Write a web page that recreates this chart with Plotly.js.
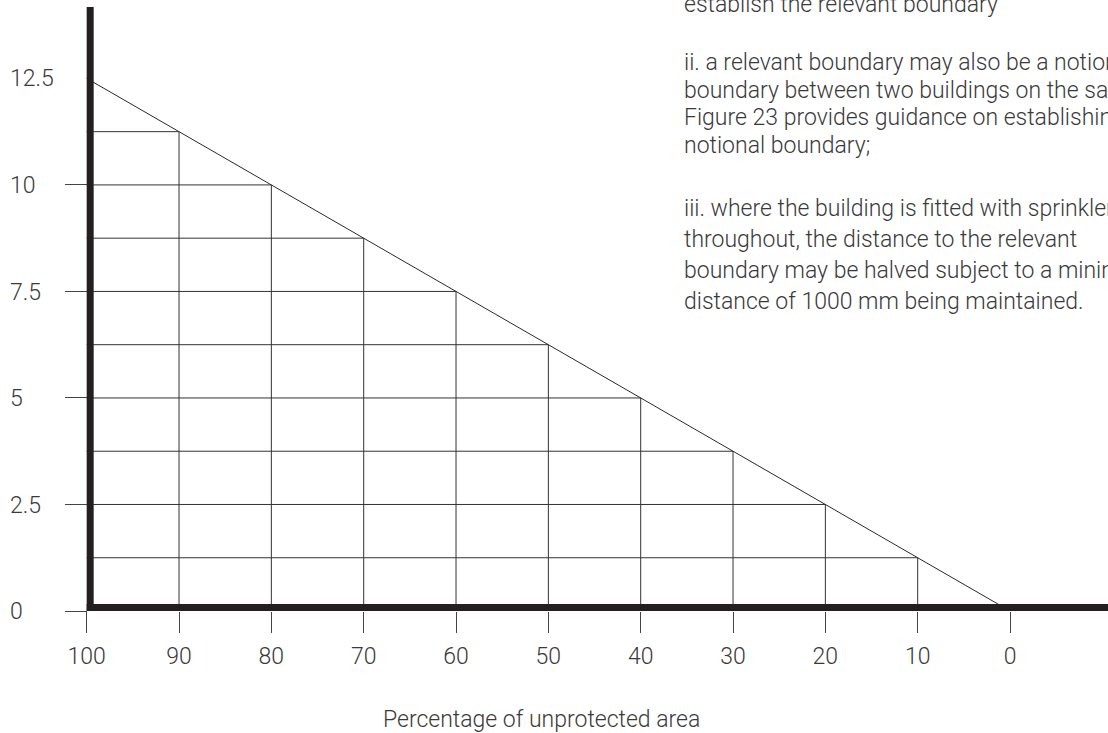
<!DOCTYPE html>
<html>
<head>
<meta charset="utf-8">
<script src="https://cdn.plot.ly/plotly-3.0.1.min.js"></script>
<style>
  html, body { margin: 0; padding: 0; background: #fff; }
  #chart { width: 1108px; height: 733px; }
</style>
</head>
<body>
<div id="chart"></div>
<script>
// ---- data ----
const pct = [100, 90, 80, 70, 60, 50, 40, 30, 20, 10, 0];          // percentage of unprotected area
const dist = [12.5, 11.25, 10, 8.75, 7.5, 6.25, 5, 3.75, 2.5, 1.25, 0]; // distance to relevant boundary (m)
const yTickVals = [0, 2.5, 5, 7.5, 10, 12.5];
const yTickText = ['0', '2.5', '5', '7.5', '10', '12.5'];
const yTickMarks = [0, 2.5, 5, 7.5, 10];
const xTickText = ['100', '90', '80', '70', '60', '50', '40', '30', '20', '10', '0'];
const axisTitle = 'Percentage of unprotected area';
const noteLines1 = [
  'establish the relevant boundary'
];
const noteLines2 = [
  'ii. a relevant boundary may also be a notional',
  'boundary between two buildings on the same site;',
  'Figure 23 provides guidance on establishing a',
  'notional boundary;'
];
const noteLines3 = [
  'iii. where the building is fitted with sprinklers',
  'throughout, the distance to the relevant',
  'boundary may be halved subject to a minimum',
  'distance of 1000 mm being maintained.'
];

// ---- layout geometry ----
const W = 1108, H = 733;
const ML = 7, MB = 122, MT = 0, MR = 0;
const plotW = W - ML - MR, plotH = H - MB - MT;
const xRange = [108.63, -10.61];
const yRange = [0, 14.34];
const px2x = px => (px - ML) / plotW;
const py2y = py => (plotH + MT - py) / plotH;

const textColor = '#3a3a3a';
const inkColor = '#231f20';
const fontFam = 'Roboto, "Liberation Sans", Arial, sans-serif';
const fs = 23;

// staircase grid under the diagonal
const gx = [], gy = [];
for (let i = 1; i < pct.length - 1; i++) {
  gx.push(pct[0], pct[i], null);
  gy.push(dist[i], dist[i], null);
  gx.push(pct[i], pct[i], null);
  gy.push(0, dist[i], null);
}

const traces = [
  {
    x: gx, y: gy, type: 'scatter', mode: 'lines',
    line: { color: '#333333', width: 1 },
    xaxis: 'x', yaxis: 'y2', hoverinfo: 'skip', showlegend: false
  },
  {
    x: [pct[0], pct[pct.length - 1]], y: [dist[0], dist[dist.length - 1]],
    type: 'scatter', mode: 'lines',
    line: { color: '#2a2a2a', width: 1 },
    xaxis: 'x', yaxis: 'y', hoverinfo: 'skip', showlegend: false
  }
];

const annotations = [];
function addLines(lines, startBaseline, spacing) {
  lines.forEach((t, i) => {
    annotations.push({
      text: t, xref: 'paper', yref: 'paper',
      x: px2x(682), y: py2y(startBaseline + i * spacing - 7.5),
      xanchor: 'left', yanchor: 'middle', showarrow: false,
      font: { family: fontFam, size: fs, color: textColor, weight: 300 }
    });
  });
}
addLines(noteLines1, 12, 28);
addLines(noteLines2, 70, 27.7);
addLines(noteLines3, 216, 31);
annotations.push({
  text: axisTitle, xref: 'paper', yref: 'paper',
  x: px2x(381), y: py2y(719), xanchor: 'left', yanchor: 'middle', showarrow: false,
  font: { family: fontFam, size: fs, color: textColor, weight: 300 }
});

const layout = {
  width: W, height: H,
  margin: { l: ML, r: MR, t: MT, b: MB, pad: 0 },
  paper_bgcolor: '#ffffff', plot_bgcolor: '#ffffff',
  showlegend: false, hovermode: false,
  font: { family: fontFam, color: textColor, weight: 300 },
  xaxis: {
    range: xRange, domain: [0, 1], fixedrange: true,
    tickmode: 'array', tickvals: pct, ticktext: xTickText,
    ticks: 'outside', ticklen: 21, tickwidth: 1, tickcolor: '#444444',
    ticklabelstandoff: 3,
    tickfont: { family: fontFam, size: fs, color: textColor, weight: 300 },
    showgrid: false, zeroline: false, showline: false
  },
  yaxis: {
    range: yRange, domain: [0, 1], fixedrange: true,
    tickmode: 'array', tickvals: yTickVals, ticktext: yTickText,
    ticks: '', ticklabelposition: 'inside', ticklabeloverflow: 'allow',
    tickfont: { family: fontFam, size: fs, color: textColor, weight: 300 },
    showgrid: false, zeroline: false, showline: false
  },
  yaxis2: {
    range: yRange, overlaying: 'y', anchor: 'free', side: 'left',
    position: px2x(87), fixedrange: true,
    tickmode: 'array', tickvals: yTickMarks,
    ticks: 'outside', ticklen: 22, tickwidth: 1, tickcolor: '#444444',
    showticklabels: false, showgrid: false, zeroline: false, showline: false
  },
  shapes: [
    { // thick vertical axis bar at 100 %
      type: 'rect', xref: 'x', xsizemode: 'pixel', xanchor: pct[0], x0: 0, x1: 7,
      yref: 'paper', y0: 0, y1: py2y(7),
      fillcolor: inkColor, line: { width: 0 }, layer: 'above'
    },
    { // thick horizontal axis bar at 0 m
      type: 'rect', xref: 'x', x0: pct[0], x1: xRange[1],
      yref: 'y', ysizemode: 'pixel', yanchor: 0, y0: 0, y1: 7,
      fillcolor: inkColor, line: { width: 0 }, layer: 'above'
    }
  ],
  annotations: annotations
};

Plotly.newPlot('chart', traces, layout, { staticPlot: true, displayModeBar: false });
</script>
</body>
</html>
